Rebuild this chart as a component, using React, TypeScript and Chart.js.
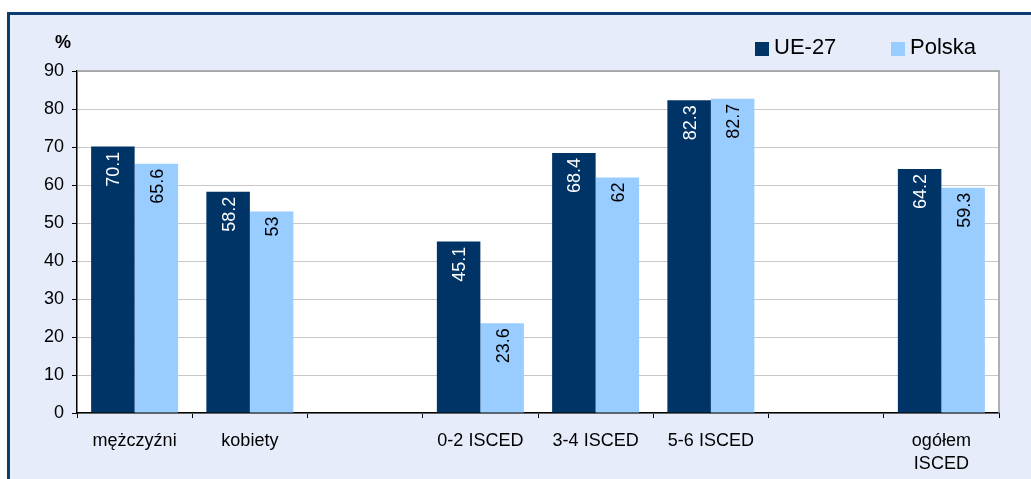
import React, { useEffect, useRef } from "react";
import { Chart, registerables } from "chart.js";

Chart.register(...registerables);

const categories: (string | string[])[] = [
  "mężczyźni",
  "kobiety",
  "",
  "0-2 ISCED",
  "3-4 ISCED",
  "5-6 ISCED",
  "",
  ["ogółem", "ISCED"],
];
const ue27: (number | null)[] = [70.1, 58.2, null, 45.1, 68.4, 82.3, null, 64.2];
const polska: (number | null)[] = [65.6, 53, null, 23.6, 62, 82.7, null, 59.3];
const seriesNames = ["UE-27", "Polska"];
const yTicks = { min: 0, max: 90, step: 10 };
const unitLabel = "%";

const DARK = "#003366";
const LIGHT = "#99CCFF";
const FONT = "'Liberation Sans', Arial, sans-serif";

const framePlugin = {
  id: "frame",
  beforeDraw(chart: any) {
    const { ctx, width, height, chartArea } = chart;
    ctx.save();
    ctx.fillStyle = "#ffffff";
    ctx.fillRect(0, 0, width, height);
    ctx.fillStyle = "#E6ECFA";
    ctx.fillRect(8.5, 13.5, width + 20, height + 20);
    ctx.strokeStyle = "#0B3D72";
    ctx.lineWidth = 3;
    ctx.strokeRect(8.5, 13.5, width + 20, height + 20);
    ctx.fillStyle = "#ffffff";
    ctx.fillRect(chartArea.left, chartArea.top, chartArea.right - chartArea.left, chartArea.bottom - chartArea.top);
    ctx.restore();
  },
  beforeDatasetsDraw(chart: any) {
    const { ctx, chartArea } = chart;
    ctx.save();
    ctx.strokeStyle = "#999999";
    ctx.lineWidth = 1.5;
    ctx.beginPath();
    ctx.moveTo(chartArea.left, chartArea.top);
    ctx.lineTo(chartArea.right, chartArea.top);
    ctx.lineTo(chartArea.right, chartArea.bottom);
    ctx.stroke();
    ctx.restore();
  },
  afterDraw(chart: any) {
    const { ctx } = chart;
    ctx.save();
    ctx.fillStyle = "#000";
    ctx.font = `bold 18px ${FONT}`;
    ctx.textAlign = "left";
    ctx.textBaseline = "alphabetic";
    ctx.fillText(unitLabel, 55, 48);
    const legendX = [755, 891];
    chart.data.datasets.forEach((ds: any, i: number) => {
      const x = legendX[i];
      ctx.fillStyle = ds.backgroundColor;
      ctx.fillRect(x, 42, 14, 14);
      ctx.fillStyle = "#000";
      ctx.font = `22px ${FONT}`;
      ctx.fillText(ds.label, x + 19, 54);
    });
    ctx.font = `18px ${FONT}`;
    chart.data.datasets.forEach((ds: any, i: number) => {
      const meta = chart.getDatasetMeta(i);
      meta.data.forEach((bar: any, j: number) => {
        const v = ds.data[j];
        if (v === null || v === undefined) return;
        ctx.save();
        ctx.translate(bar.x + 6.4, bar.y + 5);
        ctx.rotate(-Math.PI / 2);
        ctx.textAlign = "right";
        ctx.textBaseline = "alphabetic";
        ctx.fillStyle = i === 0 ? "#ffffff" : "#000000";
        ctx.fillText(String(v), 0, 0);
        ctx.restore();
      });
    });
    ctx.restore();
  },
};

export default function App() {
  const ref = useRef<HTMLCanvasElement | null>(null);
  useEffect(() => {
    document.body.style.margin = "0";
    const canvas = ref.current!;
    const chart = new Chart(canvas, {
      type: "bar",
      data: {
        labels: categories,
        datasets: [
          { label: seriesNames[0], data: ue27, backgroundColor: DARK, borderWidth: 0, categoryPercentage: 0.755, barPercentage: 1 },
          { label: seriesNames[1], data: polska, backgroundColor: LIGHT, borderWidth: 0, categoryPercentage: 0.755, barPercentage: 1 },
        ],
      },
      options: {
        responsive: false,
        animation: false,
        devicePixelRatio: 1,
        layout: { padding: { left: 0, right: 32, top: 71, bottom: 0 } },
        plugins: { legend: { display: false }, tooltip: { enabled: false } },
        scales: {
          x: {
            offset: true,
            grid: { offset: true, drawOnChartArea: false, tickLength: 5, tickColor: "#000", lineWidth: 1 },
            border: { display: true, color: "#000", width: 1.5 },
            ticks: { color: "#000", font: { family: FONT, size: 18, lineHeight: 1.3 }, padding: 11, maxRotation: 0, autoSkip: false },
            afterFit(scale: any) {
              scale.height = 66;
            },
          },
          y: {
            min: yTicks.min,
            max: yTicks.max,
            ticks: { stepSize: yTicks.step, color: "#000", font: { family: FONT, size: 18 }, padding: 8 },
            grid: { color: "#C8C8C8", tickColor: "#000", tickLength: 5, lineWidth: 1 },
            border: { display: true, color: "#000", width: 1.5 },
            afterFit(scale: any) {
              scale.width = 77;
            },
          },
        },
      },
      plugins: [framePlugin],
    });
    return () => chart.destroy();
  }, []);
  return (
    <div style={{ width: 1031, height: 479 }}>
      <canvas ref={ref} width={1031} height={479} style={{ width: 1031, height: 479, display: "block" }} />
    </div>
  );
}
